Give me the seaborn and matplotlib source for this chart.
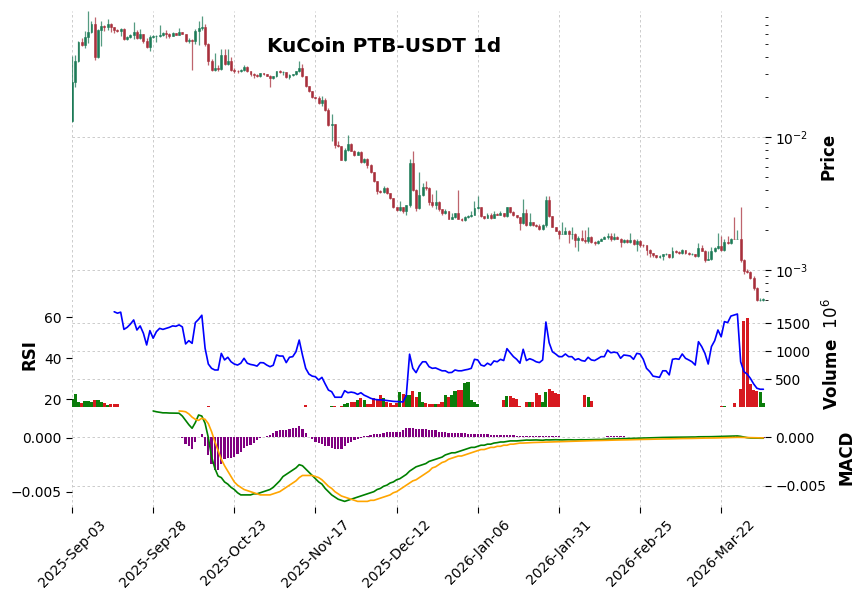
# KuCoin PTB-USDT daily chart: candles (log price), volume + RSI, MACD
import numpy as np
import pandas as pd
import matplotlib
matplotlib.use('Agg')
import matplotlib.pyplot as plt
import seaborn as sns

sns.set_theme(style='white', rc={'text.color': 'black', 'axes.labelcolor': 'black',
                                 'xtick.color': 'black', 'ytick.color': 'black',
                                 'xtick.labelsize': 10, 'ytick.labelsize': 10})
plt.rcParams['font.family'] = ['DejaVu Sans']

# data
start_date = '2025-09-03'
first_open = 0.0132
close = [
    0.0259, 0.0371, 0.0518, 0.0489, 0.0562, 0.0615, 0.0707, 0.0400, 0.0637, 0.0679,
    0.0667, 0.0707, 0.0667, 0.0637, 0.0630, 0.0649, 0.0546, 0.0562, 0.0588, 0.0615,
    0.0555, 0.0595, 0.0524, 0.0472, 0.0562, 0.0570, 0.0572, 0.0588, 0.0605, 0.0595,
    0.0574, 0.0605, 0.0589, 0.0615, 0.0595, 0.0524, 0.0539, 0.0524, 0.0630, 0.0660,
    0.0675, 0.0500, 0.0375, 0.0321, 0.0330, 0.0325, 0.0416, 0.0354, 0.0375, 0.0321,
    0.0315, 0.0312, 0.0321, 0.0336, 0.0312, 0.0298, 0.0294, 0.0286, 0.0302, 0.0298,
    0.0289, 0.0278, 0.0286, 0.0312, 0.0307, 0.0308, 0.0283, 0.0294, 0.0296, 0.0312,
    0.0330, 0.0286, 0.0240, 0.0221, 0.0199, 0.0196, 0.0180, 0.0191, 0.0160, 0.0124,
    0.0125, 0.00875, 0.00852, 0.00675, 0.00803, 0.00886, 0.00789, 0.00736, 0.00771, 0.00649,
    0.00687, 0.00619, 0.00545, 0.00465, 0.00395, 0.00386, 0.00414, 0.00377, 0.00348, 0.00299,
    0.00284, 0.00296, 0.00277, 0.00310, 0.00637, 0.00402, 0.00292, 0.00368, 0.00419, 0.00414,
    0.00325, 0.00310, 0.00323, 0.00288, 0.00268, 0.00279, 0.00242, 0.00249, 0.00267, 0.00242,
    0.00238, 0.00252, 0.00254, 0.00261, 0.00292, 0.00298, 0.00254, 0.00246, 0.00261, 0.00246,
    0.00265, 0.00261, 0.00268, 0.00255, 0.00297, 0.00273, 0.00258, 0.00249, 0.00226, 0.00268,
    0.00217, 0.00230, 0.00217, 0.00213, 0.00205, 0.00217, 0.00338, 0.00254, 0.00210, 0.00198,
    0.00187, 0.00187, 0.00195, 0.00185, 0.00187, 0.00169, 0.00174, 0.00169, 0.00165, 0.00176,
    0.00163, 0.00159, 0.00166, 0.00172, 0.00176, 0.00180, 0.00170, 0.00176, 0.00172, 0.00162,
    0.00169, 0.00163, 0.00167, 0.00158, 0.00166, 0.00155, 0.00153, 0.00142, 0.00134, 0.00129,
    0.00126, 0.00127, 0.00132, 0.00132, 0.00125, 0.00140, 0.00137, 0.00134, 0.00141, 0.00134,
    0.00132, 0.00132, 0.00128, 0.00146, 0.00140, 0.00120, 0.00122, 0.00138, 0.00146, 0.00152,
    0.00142, 0.00163, 0.00159, 0.00172, 0.00171, 0.00172, 0.00118, 0.00098, 0.00097, 0.00087,
    0.00073, 0.00060, 0.00060, 0.00061]
high = [
    0.0408, 0.0415, 0.0530, 0.0560, 0.0630, 0.0890, 0.0750, 0.0800, 0.0645, 0.0750,
    0.0690, 0.0770, 0.0720, 0.0670, 0.0650, 0.0660, 0.0655, 0.0570, 0.0595, 0.0730,
    0.0640, 0.0645, 0.0600, 0.0560, 0.0585, 0.0580, 0.0585, 0.0690, 0.0615, 0.0640,
    0.0605, 0.0615, 0.0610, 0.0660, 0.0620, 0.0600, 0.0560, 0.0545, 0.0645, 0.0750,
    0.0810, 0.0710, 0.0510, 0.0385, 0.0430, 0.0345, 0.0460, 0.0460, 0.0460, 0.0400,
    0.0330, 0.0320, 0.0325, 0.0345, 0.0340, 0.0315, 0.0305, 0.0300, 0.0305, 0.0305,
    0.0300, 0.0292, 0.0290, 0.0315, 0.0318, 0.0315, 0.0310, 0.0298, 0.0300, 0.0316,
    0.0370, 0.0355, 0.0290, 0.0243, 0.0223, 0.0201, 0.0205, 0.0205, 0.0195, 0.0165,
    0.0148, 0.0126, 0.0093, 0.0086, 0.0082, 0.0104, 0.0090, 0.0080, 0.0078, 0.0078,
    0.0070, 0.0070, 0.0063, 0.0055, 0.0047, 0.0040, 0.0043, 0.0042, 0.0038, 0.0035,
    0.0030, 0.0033, 0.0030, 0.0031, 0.0068, 0.0078, 0.0041, 0.0055, 0.0045, 0.0047,
    0.0042, 0.0037, 0.0040, 0.0033, 0.0029, 0.0029, 0.0028, 0.0027, 0.0027, 0.0040,
    0.00245, 0.00255, 0.0026, 0.0028, 0.0033, 0.0036, 0.0030, 0.00255, 0.0027, 0.0027,
    0.0028, 0.0027, 0.0028, 0.0027, 0.0030, 0.0030, 0.0028, 0.0026, 0.0025, 0.0034,
    0.0029, 0.0027, 0.0023, 0.0022, 0.0022, 0.0022, 0.0036, 0.0036, 0.00255, 0.0021,
    0.0020, 0.0023, 0.0021, 0.0020, 0.0021, 0.0019, 0.0018, 0.0020, 0.0020, 0.0021,
    0.0018, 0.00165, 0.00168, 0.00175, 0.0018, 0.0019, 0.0019, 0.0019, 0.0018, 0.00175,
    0.0017, 0.0017, 0.0019, 0.0017, 0.0017, 0.00168, 0.00158, 0.00155, 0.00145, 0.00135,
    0.0013, 0.0013, 0.00133, 0.00134, 0.00133, 0.0015, 0.00142, 0.00139, 0.00143, 0.00142,
    0.00136, 0.00135, 0.00133, 0.0016, 0.00155, 0.00141, 0.00138, 0.0015, 0.0015, 0.0019,
    0.0018, 0.0017, 0.0018, 0.00175, 0.0025, 0.0020, 0.0030, 0.00122, 0.00102, 0.00099,
    0.0009, 0.00075, 0.00062, 0.00062]
low = [
    0.0130, 0.0238, 0.0365, 0.0480, 0.0470, 0.0510, 0.0610, 0.0380, 0.0390, 0.0480,
    0.0630, 0.0640, 0.0620, 0.0610, 0.0615, 0.0570, 0.0540, 0.0535, 0.0555, 0.0545,
    0.0545, 0.0550, 0.0505, 0.0465, 0.0440, 0.0555, 0.0520, 0.0565, 0.0575, 0.0560,
    0.0555, 0.0570, 0.0580, 0.0585, 0.0590, 0.0515, 0.0510, 0.0321, 0.0500, 0.0490,
    0.0640, 0.0480, 0.0345, 0.0315, 0.0315, 0.0315, 0.0320, 0.0350, 0.0350, 0.0315,
    0.0305, 0.0305, 0.0308, 0.0315, 0.0308, 0.0290, 0.0280, 0.0282, 0.0283, 0.0295,
    0.0286, 0.0236, 0.0275, 0.0284, 0.0303, 0.0295, 0.0280, 0.0275, 0.0290, 0.0293,
    0.0308, 0.0283, 0.0238, 0.0218, 0.0196, 0.0192, 0.0178, 0.0172, 0.0158, 0.0122,
    0.0093, 0.0083, 0.0084, 0.0067, 0.0066, 0.0079, 0.0078, 0.0072, 0.0073, 0.0064,
    0.0064, 0.0058, 0.0054, 0.0046, 0.0037, 0.0038, 0.0038, 0.0037, 0.0034, 0.00295,
    0.0028, 0.0028, 0.0027, 0.0026, 0.0030, 0.0039, 0.0028, 0.0029, 0.0036, 0.0040,
    0.0031, 0.0030, 0.0029, 0.0028, 0.0026, 0.00265, 0.0024, 0.0024, 0.00245, 0.0024,
    0.00235, 0.00235, 0.00245, 0.0025, 0.0026, 0.0029, 0.0025, 0.0024, 0.00245, 0.0024,
    0.00245, 0.0026, 0.0026, 0.0025, 0.0025, 0.0027, 0.00255, 0.00245, 0.0020, 0.0022,
    0.00215, 0.00215, 0.00215, 0.0021, 0.0020, 0.0020, 0.0021, 0.0025, 0.0021, 0.00195,
    0.0017, 0.00185, 0.00185, 0.0016, 0.0017, 0.0015, 0.0014, 0.00165, 0.0016, 0.0016,
    0.0016, 0.00155, 0.00157, 0.00164, 0.0017, 0.00172, 0.00165, 0.00168, 0.0017, 0.0015,
    0.0016, 0.0016, 0.0016, 0.00155, 0.0014, 0.0015, 0.0015, 0.0013, 0.00125, 0.00126,
    0.00124, 0.00124, 0.0012, 0.0013, 0.00123, 0.00124, 0.00135, 0.00132, 0.00133, 0.00132,
    0.0013, 0.0013, 0.00125, 0.00126, 0.00138, 0.00115, 0.00118, 0.0012, 0.00136, 0.00145,
    0.0014, 0.0014, 0.00157, 0.00157, 0.0017, 0.0017, 0.00115, 0.00094, 0.00095, 0.00085,
    0.00071, 0.00059, 0.00059, 0.00059]
# volume in units of 1e6
volume = [
    137, 230, 95, 65, 107, 107, 95, 125, 125, 95,
    65, 30, 45, 45, 45, 6, 4, 3, 5, 7,
    4, 3, 5, 3, 6, 4, 3, 5, 4, 3,
    3, 4, 3, 5, 3, 4, 6, 5, 7, 5,
    8, 6, 9, 5, 4, 3, 6, 4, 3, 4,
    3, 2, 3, 4, 3, 2, 3, 2, 3, 2,
    3, 2, 2, 4, 3, 2, 3, 2, 2, 3,
    5, 4, 41, 6, 4, 3, 5, 3, 6, 8,
    10, 15, 8, 15, 54, 77, 95, 95, 125, 155,
    125, 54, 45, 155, 125, 214, 155, 95, 77, 30,
    77, 268, 232, 214, 214, 292, 178, 268, 95, 65,
    45, 45, 45, 45, 95, 214, 172, 214, 292, 304,
    304, 423, 446, 125, 95, 45, 5, 4, 3, 4,
    3, 5, 4, 125, 196, 196, 161, 143, 20, 6,
    89, 89, 89, 256, 214, 89, 268, 321, 292, 250,
    232, 6, 5, 4, 6, 5, 4, 5, 214, 175,
    107, 4, 3, 4, 3, 4, 3, 3, 2, 3,
    3, 2, 3, 2, 4, 3, 2, 3, 4, 3,
    2, 3, 2, 3, 2, 4, 3, 2, 3, 2,
    3, 2, 3, 4, 3, 5, 3, 4, 3, 5,
    10, 10, 5, 4, 65, 8, 321, 1540, 1600, 410,
    304, 286, 275, 65]
# RSI from 2025-09-16
rsi = [
    62.7, 62.0, 62.5, 54.1, 55.1, 56.7, 58.7,
    53.8, 55.8, 52.2, 46.5, 53.5, 49.8, 53.0, 54.6, 54.1, 54.6,
    55.1, 55.8, 55.6, 56.3, 55.3, 47.0, 48.6, 47.3, 57.4, 59.0,
    61.0, 44.9, 37.2, 35.1, 34.3, 34.3, 42.4, 39.2, 40.5, 38.3,
    37.2, 36.7, 37.6, 40.0, 37.6, 37.0, 36.7, 36.2, 37.9, 37.8,
    36.7, 35.9, 36.6, 41.6, 41.1, 41.1, 37.9, 40.5, 40.8, 43.2,
    48.9, 41.6, 35.1, 32.3, 31.3, 31.0, 29.4, 30.7, 27.5, 24.5,
    23.7, 21.0, 21.0, 21.0, 24.2, 23.2, 23.5, 23.2, 22.4, 23.2,
    22.0, 21.3, 20.5, 20.0, 19.8, 19.7, 19.6, 19.4, 19.2, 19.0,
    18.9, 18.8, 18.7, 22.0, 42.0, 35.1, 33.0, 36.2, 38.3, 38.3,
    35.9, 35.1, 35.3, 34.6, 33.9, 33.9, 33.0, 33.1, 34.3, 33.9,
    33.9, 34.3, 34.6, 35.1, 39.5, 39.2, 36.7, 36.2, 37.6, 36.7,
    38.7, 38.3, 39.5, 38.9, 44.7, 42.7, 40.8, 39.5, 37.6, 44.4,
    38.9, 39.8, 39.2, 38.3, 37.9, 39.2, 57.7, 47.6, 43.2, 42.1,
    40.8, 40.8, 42.1, 40.8, 40.8, 39.2, 39.8, 38.9, 38.6, 40.5,
    39.2, 38.9, 39.8, 40.8, 40.8, 44.0, 42.7, 43.0, 42.7, 40.0,
    41.6, 41.4, 41.1, 39.5, 42.4, 42.1, 39.5, 35.1, 33.5, 31.3,
    31.0, 30.7, 33.9, 33.9, 31.9, 39.5, 39.8, 39.5, 42.1, 40.0,
    39.2, 38.3, 36.7, 48.1, 45.7, 42.4, 37.2, 45.7, 48.6, 53.8,
    50.5, 57.9, 57.4, 60.6, 61.1, 61.6, 38.3, 33.5, 32.3, 30.2,
    27.5, 25.4, 24.9, 24.9]
# MACD line from 2025-09-28
macd = [
    0.00247, 0.00240, 0.00235, 0.00230, 0.00230,
    0.00228, 0.00228, 0.00227, 0.00226, 0.00200, 0.00160, 0.00120, 0.00087, 0.00140, 0.00210,
    0.00200, 0.00133, 0.00000, -0.00176, -0.00283, -0.00355, -0.00370, -0.00410, -0.00430, -0.00460,
    -0.00480, -0.00510, -0.00530, -0.00530, -0.00530, -0.00530, -0.00520, -0.00520, -0.00510, -0.00500,
    -0.00490, -0.00480, -0.00460, -0.00430, -0.00400, -0.00360, -0.00340, -0.00320, -0.00300, -0.00280,
    -0.00250, -0.00260, -0.00290, -0.00320, -0.00350, -0.00380, -0.00410, -0.00430, -0.00470, -0.00500,
    -0.00530, -0.00550, -0.00570, -0.00580, -0.00590, -0.00580, -0.00570, -0.00560, -0.00550, -0.00540,
    -0.00530, -0.00520, -0.00510, -0.00500, -0.00480, -0.00470, -0.00450, -0.00440, -0.00420, -0.00410,
    -0.00390, -0.00380, -0.00360, -0.00340, -0.00310, -0.00290, -0.00270, -0.00260, -0.00250, -0.00240,
    -0.00220, -0.00210, -0.00200, -0.00190, -0.00180, -0.00160, -0.00150, -0.00140, -0.00140, -0.00130,
    -0.00120, -0.00110, -0.00100, -0.00090, -0.00090, -0.00080, -0.00070, -0.00070, -0.00060, -0.00060,
    -0.00050, -0.00046, -0.00040, -0.00040, -0.00035, -0.00030, -0.00030, -0.00030, -0.00028, -0.00025,
    -0.00022, -0.00023, -0.00022, -0.00021, -0.00022, -0.00024, -0.00020, -0.00021, -0.00020, -0.00019,
    -0.00020, -0.00021, -0.00020, -0.00019, -0.00020, -0.00021, -0.00020, -0.00019, -0.00020, -0.00019,
    -0.00019, -0.00018, -0.00017, -0.00017, -0.00015, -0.00013, -0.00013, -0.00012, -0.00011, -0.00010,
    -0.00009, -0.00008, -0.00008, -0.00006, -0.00005, -0.00005, -0.00003, -0.00002, -0.00001, 0.00000,
    0.00000, 0.00001, 0.00002, 0.00002, 0.00003, 0.00004, 0.00004, 0.00004, 0.00005, 0.00005,
    0.00006, 0.00006, 0.00006, 0.00008, 0.00008, 0.00007, 0.00008, 0.00009, 0.00010, 0.00011,
    0.00011, 0.00012, 0.00013, 0.00014, 0.00015, 0.00016, 0.00012, 0.00006, 0.00000, -0.00003,
    -0.00004, -0.00005, -0.00005, -0.00005]
# signal line from 2025-10-06
signal = [
    0.00247, 0.00245, 0.00240, 0.00220, 0.00190, 0.00170, 0.00160,
    0.00180, 0.00170, 0.00130, 0.00056, -0.00037, -0.00120, -0.00200, -0.00260, -0.00310, -0.00360,
    -0.00410, -0.00440, -0.00460, -0.00480, -0.00490, -0.00500, -0.00510, -0.00520, -0.00530, -0.00530,
    -0.00530, -0.00530, -0.00520, -0.00510, -0.00500, -0.00480, -0.00460, -0.00440, -0.00420, -0.00400,
    -0.00370, -0.00350, -0.00350, -0.00350, -0.00350, -0.00360, -0.00370, -0.00390, -0.00420, -0.00450,
    -0.00470, -0.00500, -0.00520, -0.00540, -0.00550, -0.00560, -0.00570, -0.00580, -0.00590, -0.00590,
    -0.00590, -0.00590, -0.00580, -0.00580, -0.00570, -0.00560, -0.00550, -0.00540, -0.00530, -0.00510,
    -0.00500, -0.00480, -0.00460, -0.00440, -0.00420, -0.00400, -0.00390, -0.00370, -0.00350, -0.00330,
    -0.00310, -0.00280, -0.00270, -0.00250, -0.00230, -0.00220, -0.00200, -0.00190, -0.00180, -0.00170,
    -0.00170, -0.00160, -0.00150, -0.00140, -0.00130, -0.00120, -0.00110, -0.00110, -0.00100, -0.00090,
    -0.00090, -0.00080, -0.00080, -0.00070, -0.00070, -0.00060, -0.00060, -0.00055, -0.00050, -0.00050,
    -0.00048, -0.00046, -0.00045, -0.00044, -0.00043, -0.00042, -0.00040, -0.00040, -0.00039, -0.00038,
    -0.00037, -0.00036, -0.00035, -0.00034, -0.00033, -0.00032, -0.00031, -0.00030, -0.00030, -0.00029,
    -0.00028, -0.00027, -0.00027, -0.00026, -0.00025, -0.00024, -0.00024, -0.00023, -0.00022, -0.00021,
    -0.00021, -0.00020, -0.00019, -0.00019, -0.00018, -0.00017, -0.00016, -0.00016, -0.00015, -0.00014,
    -0.00014, -0.00013, -0.00012, -0.00012, -0.00011, -0.00010, -0.00010, -0.00009, -0.00008, -0.00008,
    -0.00007, -0.00007, -0.00006, -0.00005, -0.00005, -0.00004, -0.00004, -0.00003, -0.00003, -0.00002,
    -0.00002, -0.00001, 0.00000, 0.00001, 0.00002, 0.00003, 0.00003, 0.00002, 0.00001, 0.00000,
    -0.00001, -0.00001, -0.00002, -0.00002]
# histogram from 2025-10-07
hist = [
    -0.00010, -0.00066, -0.00090, -0.00116, -0.00044, 0.00000,
    0.00033, -0.00090, -0.00180, -0.00280, -0.00340, -0.00340, -0.00280, -0.00220, -0.00210, -0.00210,
    -0.00200, -0.00170, -0.00150, -0.00110, -0.00090, -0.00080, -0.00055, -0.00033, -0.00010, 0.00003,
    0.00010, 0.00020, 0.00044, 0.00066, 0.00077, 0.00077, 0.00077, 0.00090, 0.00100, 0.00100,
    0.00120, 0.00090, 0.00044, 0.00002, -0.00020, -0.00044, -0.00055, -0.00066, -0.00090, -0.00090,
    -0.00110, -0.00120, -0.00120, -0.00120, -0.00090, -0.00055, -0.00044, -0.00033, -0.00020, -0.00005,
    0.00010, 0.00010, 0.00020, 0.00033, 0.00033, 0.00033, 0.00044, 0.00055, 0.00055, 0.00055,
    0.00055, 0.00055, 0.00077, 0.00100, 0.00100, 0.00100, 0.00090, 0.00090, 0.00090, 0.00090,
    0.00077, 0.00077, 0.00077, 0.00055, 0.00055, 0.00055, 0.00044, 0.00044, 0.00044, 0.00044,
    0.00044, 0.00044, 0.00033, 0.00033, 0.00033, 0.00033, 0.00033, 0.00030, 0.00030, 0.00028,
    0.00028, 0.00025, 0.00022, 0.00022, 0.00022, 0.00020, 0.00020, 0.00017, 0.00017, 0.00017,
    0.00012, 0.00011, 0.00011, 0.00010, 0.00010, 0.00010, 0.00010, 0.00011, 0.00010, 0.00010,
    0.00009, 0.00005, 0.00004, 0.00004, 0.00003, 0.00004, 0.00005, 0.00004, 0.00003, 0.00003,
    0.00003, 0.00002, 0.00003, 0.00004, 0.00006, 0.00010, 0.00011, 0.00010, 0.00011, 0.00010,
    0.00009, 0.00005, 0.00003, 0.00002, 0.00002, 0.00003, 0.00002, 0.00002, 0.00001, 0.00002,
    0.00002, 0.00003, 0.00002, 0.00002, 0.00003, 0.00002, 0.00003, 0.00002, 0.00002, 0.00003,
    0.00003, 0.00002, 0.00003, 0.00004, 0.00003, 0.00004, 0.00005, 0.00004, 0.00006, 0.00007,
    0.00009, 0.00011, 0.00012, 0.00011, 0.00012, 0.00013, 0.00009, 0.00004, -0.00002, -0.00004,
    -0.00004, -0.00004, -0.00003, -0.00003]

n = len(close)
df = pd.DataFrame({'close': close, 'high': high, 'low': low, 'volume': volume})
df['date'] = pd.date_range(start_date, periods=n, freq='D')
df['day'] = np.arange(n)
df['open'] = [first_open] + close[:-1]
df['rsi'] = [np.nan] * (n - len(rsi)) + rsi
df['macd'] = [np.nan] * (n - len(macd)) + macd
df['signal'] = [np.nan] * (n - len(signal)) + signal
df['hist'] = [np.nan] * (n - len(hist)) + hist

up = (df['close'] >= df['open']).values
candle_col = np.where(up, '#1c7a57', '#a8303c')
vol_col = np.where(up, '#0b7d0b', '#d7191f')
body_lo = df[['open', 'close']].min(axis=1)
body_hi = df[['open', 'close']].max(axis=1)

tick_days = list(range(0, n, 25))
tick_labels = [df['date'][d].strftime('%Y-%b-%d') for d in tick_days]
xlims = (0, n - 0.5)
grid_kw = dict(ls=(0, (3, 3)), color='#c4c4c4', lw=0.6)

fig = plt.figure(figsize=(8.59, 5.99), dpi=100)
left, width = 72 / 859, 693 / 859
ax_p = fig.add_axes([left, 1 - 302 / 599, width, 291 / 599])
ax_v = fig.add_axes([left, 1 - 407 / 599, width, 105 / 599])
ax_m = fig.add_axes([left, 1 - 507 / 599, width, 100 / 599])

# price panel
ax_p.vlines(df['day'], df['low'], df['high'], colors=candle_col, lw=0.9, alpha=0.75)
ax_p.bar(df['day'], body_hi - body_lo, bottom=body_lo, width=0.6, color=candle_col,
         edgecolor=candle_col, lw=0.4)
ax_p.set_yscale('log')
ax_p.set_ylim(0.000575, 0.0886)
ax_p.yaxis.tick_right()
ax_p.yaxis.set_label_position('right')
ax_p.set_ylabel('Price', fontsize=12, fontweight='bold', labelpad=8)
ax_p.tick_params(axis='y', which='major', right=True, left=False, length=4, width=0.8)
ax_p.tick_params(axis='y', which='minor', right=True, left=False, length=2, width=0.6)
ax_p.tick_params(axis='x', bottom=False, labelbottom=False)
ax_p.grid(True, which='major', **grid_kw)

# volume + RSI panel
ax_v.bar(df['day'], df['volume'], width=0.95, color=vol_col, lw=0)
ax_r = ax_v.twinx()
sns.lineplot(data=df, x='day', y='rsi', ax=ax_r, color='blue', lw=1.2)
ax_v.yaxis.tick_right()
ax_v.yaxis.set_label_position('right')
ax_v.set_ylim(0, 1880)
ax_v.set_yticks([500, 1000, 1500])
ax_v.set_ylabel('Volume  $10^{6}$', fontsize=12, fontweight='bold', labelpad=8)
ax_v.tick_params(axis='y', right=True, left=False, length=4, width=0.8)
ax_v.tick_params(axis='x', bottom=False, labelbottom=False)
ax_v.grid(True, **grid_kw)
ax_r.yaxis.tick_left()
ax_r.yaxis.set_label_position('left')
ax_r.set_ylim(16.24, 67.46)
ax_r.set_yticks([20, 40, 60])
ax_r.set_ylabel('RSI', fontsize=12, fontweight='bold')
ax_r.set_xlabel('')
ax_r.tick_params(axis='y', left=True, right=False, length=4, width=0.8)

# MACD panel
ax_m.bar(df['day'], df['hist'], width=0.7, color='purple', lw=0)
ax_l = ax_m.twinx()
sns.lineplot(data=df, x='day', y='macd', ax=ax_l, color='green', lw=1.2)
sns.lineplot(data=df, x='day', y='signal', ax=ax_l, color='orange', lw=1.2)
ax_m.yaxis.tick_right()
ax_m.yaxis.set_label_position('right')
ax_m.set_ylim(-0.0072, 0.00313)
ax_m.set_yticks([-0.005, 0.0], ['\u22120.005', '0.000'])
ax_m.set_ylabel('MACD', fontsize=12, fontweight='bold', labelpad=8)
ax_m.tick_params(axis='y', right=True, left=False, length=4, width=0.8)
ax_m.grid(True, **grid_kw)
ax_l.yaxis.tick_left()
ax_l.yaxis.set_label_position('left')
ax_l.set_ylim(-0.00642, 0.00284)
ax_l.set_yticks([-0.005, 0.0], ['\u22120.005', '0.000'])
ax_l.set_ylabel('')
ax_l.set_xlabel('')
ax_l.tick_params(axis='y', left=True, right=False, length=4, width=0.8)

for ax in (ax_p, ax_v, ax_m, ax_r, ax_l):
    ax.set_xlim(*xlims)
    for s in ax.spines.values():
        s.set_visible(False)
for ax in (ax_p, ax_v):
    ax.set_xticks(tick_days)
ax_m.set_xticks(tick_days, tick_labels, rotation=45)
ax_m.tick_params(axis='x', bottom=True, length=4, width=0.8)
ax_m.set_xlabel('')

fig.text(384 / 859, 1 - 47 / 599, 'KuCoin PTB-USDT 1d', ha='center', va='center',
         fontsize=14.4, fontweight='bold')

fig.savefig('out.png', dpi=100)
